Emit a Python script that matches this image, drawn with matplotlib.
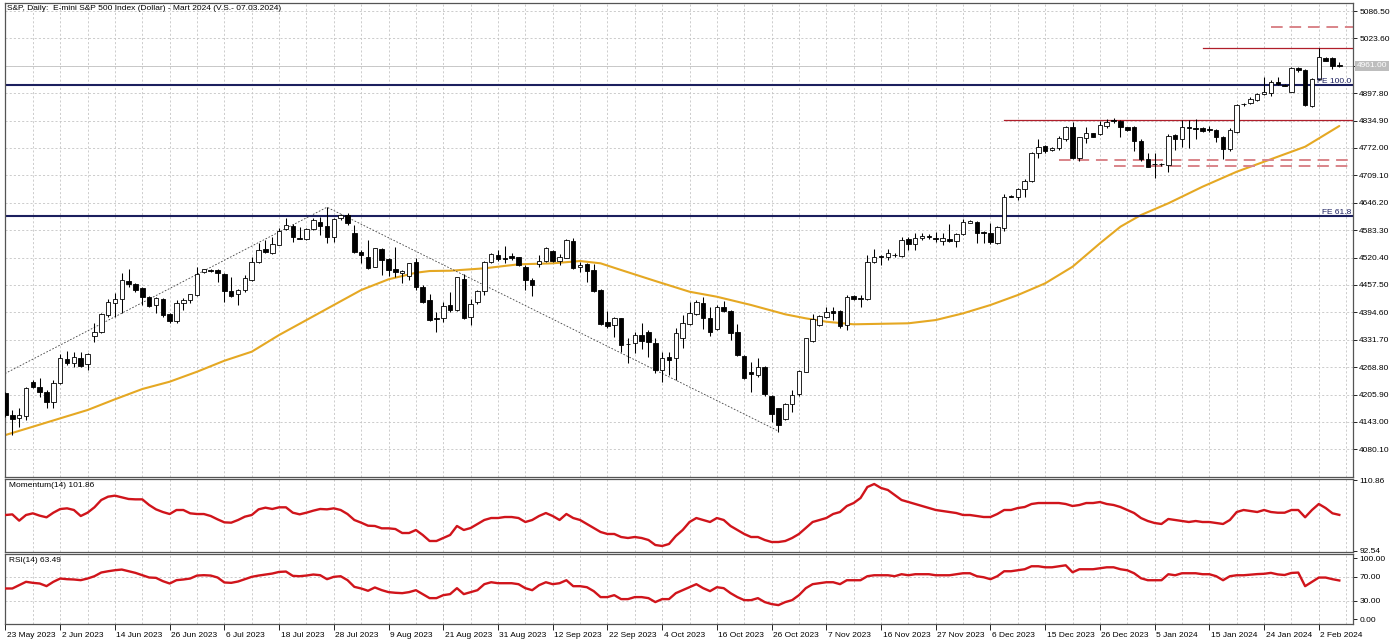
import matplotlib
matplotlib.use("Agg")
import matplotlib.pyplot as plt
from matplotlib.transforms import blended_transform_factory, ScaledTranslation

plt.rcParams['font.family'] = ['Liberation Sans', 'DejaVu Sans']
FS = 6.0

title = "S&P, Daily:  E-mini S&P 500 Index (Dollar) - Mart 2024 (V.S.- 07.03.2024)"

date_labels = ["23 May 2023", "2 Jun 2023", "14 Jun 2023", "26 Jun 2023", "6 Jul 2023",
               "18 Jul 2023", "28 Jul 2023", "9 Aug 2023", "21 Aug 2023", "31 Aug 2023",
               "12 Sep 2023", "22 Sep 2023", "4 Oct 2023", "16 Oct 2023", "26 Oct 2023",
               "7 Nov 2023", "16 Nov 2023", "27 Nov 2023", "6 Dec 2023", "15 Dec 2023",
               "26 Dec 2023", "5 Jan 2024", "15 Jan 2024", "24 Jan 2024", "2 Feb 2024"]
label_step = 8

# OHLC per daily bar
ohlc = [
 (4208.7,4212.6,4155.2,4159.0),(4159.0,4170.5,4113.1,4149.8),(4151.3,4174.3,4132.2,4159.0),(4156.7,4224.0,4147.5,4220.2),
 (4235.5,4239.3,4220.2,4224.0),(4224.0,4243.2,4201.1,4212.6),(4212.6,4216.4,4174.3,4188.1),(4188.1,4239.3,4174.3,4231.7),
 (4231.7,4299.0,4230.2,4289.1),(4288.3,4306.7,4273.8,4279.1),(4279.1,4304.4,4270.0,4292.9),(4290.6,4304.4,4270.0,4271.5),
 (4275.3,4302.1,4262.3,4299.0),(4340.4,4369.4,4327.3,4348.8),(4348.8,4392.4,4348.0,4390.9),(4388.6,4424.5,4384.7,4419.2),
 (4416.9,4438.3,4383.2,4424.5),(4424.5,4484.2,4392.4,4468.9),(4467.4,4493.4,4453.6,4459.7),(4459.7,4461.3,4442.1,4446.0),
 (4449.8,4452.1,4411.5,4430.7),(4429.1,4432.2,4406.2,4409.2),(4411.5,4430.7,4393.9,4426.8),(4425.3,4426.8,4383.2,4388.6),
 (4390.1,4392.4,4369.4,4375.6),(4375.6,4423.0,4371.0,4416.9),(4415.4,4426.8,4400.1,4423.0),(4423.0,4436.8,4415.4,4436.0),
 (4434.5,4499.5,4432.2,4482.7),(4487.3,4494.2,4485.8,4493.4),(4491.0,4493.4,4488.1,4490.0),(4491.9,4493.4,4465.1,4484.2),
 (4482.7,4484.2,4419.2,4444.4),(4444.4,4476.6,4429.1,4433.0),(4436.8,4447.5,4411.5,4446.0),(4446.0,4480.4,4442.1,4474.3),
 (4468.9,4522.5,4467.4,4511.0),(4511.0,4553.1,4507.2,4537.8),(4539.3,4560.8,4531.7,4534.0),(4531.7,4568.4,4528.6,4551.6),
 (4549.3,4587.6,4548.5,4582.2),(4585.3,4610.5,4583.7,4595.2),(4593.7,4597.5,4557.0,4566.9),(4565.0,4589.9,4562.3,4564.0),
 (4562.3,4587.6,4560.8,4585.3),(4585.3,4610.5,4583.7,4606.7),(4602.8,4614.3,4572.2,4592.9),(4592.9,4637.3,4553.1,4566.9),
 (4566.9,4610.5,4557.0,4608.2),(4610.5,4620.5,4606.7,4618.2),(4618.2,4622.0,4595.2,4600.6),(4577.6,4595.2,4530.2,4534.0),
 (4534.0,4537.8,4507.2,4526.3),(4522.5,4560.8,4493.4,4495.7),(4499.5,4543.2,4498.0,4541.6),(4540.1,4541.6,4480.4,4514.9),
 (4516.4,4518.7,4478.1,4491.9),(4493.4,4545.5,4476.6,4488.1),(4484.2,4491.9,4461.3,4489.6),(4478.1,4508.7,4468.9,4507.2),
 (4511.0,4518.7,4446.0,4453.6),(4453.6,4457.4,4416.9,4419.2),(4423.0,4436.0,4374.8,4377.1),(4380.9,4394.7,4348.8,4378.6),
 (4382.4,4419.2,4373.3,4410.0),(4411.5,4442.1,4396.2,4400.1),(4400.1,4476.6,4397.8,4475.1),(4471.2,4481.9,4378.6,4382.4),
 (4384.7,4425.3,4365.6,4413.1),(4417.7,4446.0,4413.1,4443.7),(4443.7,4512.5,4434.5,4509.5),(4509.5,4530.2,4507.2,4527.9),
 (4526.3,4537.8,4512.5,4516.4),(4519.4,4547.8,4507.2,4517.9),(4524.0,4530.2,4514.8,4518.7),(4521.0,4522.5,4501.8,4503.4),
 (4499.5,4503.4,4446.0,4468.9),(4468.9,4472.8,4432.9,4457.4),(4506.4,4526.3,4499.5,4512.5),(4512.5,4545.5,4511.0,4541.6),
 (4536.3,4537.8,4511.0,4513.3),(4513.3,4527.9,4503.4,4522.5),(4520.2,4563.1,4518.7,4560.8),(4558.5,4566.1,4494.2,4495.7),
 (4499.5,4511.0,4488.1,4503.4),(4504.9,4507.2,4465.1,4490.4),(4491.9,4504.9,4442.1,4443.7),(4446.0,4447.5,4365.6,4367.1),
 (4371.7,4397.8,4358.0,4364.1),(4365.6,4384.7,4338.8,4382.4),(4380.9,4382.4,4304.4,4319.7),(4322.0,4335.0,4277.6,4321.2),
 (4323.5,4350.3,4300.6,4342.6),(4342.6,4369.4,4310.5,4329.6),(4350.3,4354.1,4292.9,4325.8),(4323.5,4335.0,4254.6,4262.3),
 (4262.3,4304.4,4235.5,4290.6),(4291.4,4302.9,4250.8,4285.3),(4289.1,4358.0,4239.3,4346.5),(4335.0,4388.6,4313.6,4369.4),
 (4367.9,4419.2,4365.6,4392.4),(4390.1,4423.0,4388.6,4417.7),(4416.9,4430.7,4356.4,4380.9),(4380.9,4407.7,4340.4,4350.3),
 (4356.4,4411.5,4354.1,4407.7),(4407.7,4420.7,4394.7,4397.8),(4397.8,4400.1,4331.2,4346.5),(4348.8,4367.1,4295.2,4296.7),
 (4295.2,4296.7,4241.6,4244.7),(4256.9,4281.4,4212.6,4252.3),(4250.8,4290.6,4247.0,4270.0),(4270.0,4271.5,4203.4,4206.4),
 (4202.6,4204.9,4143.7,4160.5),(4174.3,4175.8,4120.7,4136.0),(4149.0,4185.8,4147.5,4183.5),(4183.5,4216.4,4166.6,4204.9),
 (4206.4,4262.3,4203.4,4260.0),(4258.5,4336.5,4256.9,4335.0),(4328.9,4390.1,4327.3,4379.4),(4365.6,4388.5,4363.3,4386.2),
 (4383.2,4407.7,4380.9,4396.2),(4398.5,4407.7,4377.1,4393.9),(4398.5,4400.0,4357.9,4363.3),(4365.6,4434.4,4354.1,4430.6),
 (4432.1,4434.4,4423.0,4424.5),(4427.6,4434.4,4407.7,4426.0),(4424.5,4526.3,4423.0,4510.0),(4510.0,4539.3,4508.7,4520.9),
 (4523.2,4526.3,4503.3,4521.7),(4520.9,4539.3,4514.8,4530.1),(4527.0,4530.1,4522.5,4525.5),(4524.0,4568.4,4522.5,4560.7),
 (4562.3,4566.8,4537.8,4551.5),(4551.5,4577.6,4537.8,4566.1),(4564.6,4576.0,4560.7,4569.9),(4569.2,4573.7,4562.3,4567.6),
 (4565.3,4579.9,4556.9,4563.8),(4559.2,4576.0,4549.2,4564.6),(4563.0,4597.5,4556.9,4559.2),(4559.2,4577.6,4545.4,4574.5),
 (4574.5,4608.2,4572.2,4602.8),(4600.5,4606.6,4599.0,4605.1),(4602.8,4605.1,4554.6,4577.6),(4578.3,4582.2,4554.6,4576.8),
 (4577.6,4599.0,4551.5,4555.4),(4553.1,4592.9,4551.5,4589.8),(4587.5,4666.3,4582.2,4660.2),(4661.0,4664.0,4658.7,4659.4),
 (4660.2,4679.3,4652.6,4677.0),(4677.0,4700.0,4660.2,4696.9),(4696.9,4763.5,4694.6,4761.2),(4761.2,4791.8,4748.2,4775.0),
 (4776.5,4778.8,4761.2,4765.8),(4767.4,4773.5,4765.8,4771.9),(4771.2,4799.5,4767.4,4794.1),(4791.8,4822.5,4788.8,4819.4),
 (4821.0,4832.4,4745.9,4748.2),(4748.2,4797.9,4742.9,4796.4),(4794.1,4821.0,4784.2,4805.6),(4805.6,4807.1,4796.4,4798.0),
 (4804.1,4834.7,4801.8,4824.8),(4822.5,4837.8,4817.1,4832.4),(4835.5,4840.1,4830.1,4833.9),(4834.7,4836.2,4798.0,4819.4),
 (4819.4,4821.0,4811.7,4813.3),(4819.4,4822.5,4765.8,4788.8),(4788.8,4791.8,4742.9,4745.9),(4745.9,4759.7,4727.6,4729.1),
 (4736.0,4759.7,4702.3,4734.4),(4734.4,4738.3,4730.6,4736.0),(4732.9,4803.3,4716.1,4799.5),(4801.8,4803.3,4767.4,4791.8),
 (4791.8,4836.2,4773.5,4819.4),(4819.4,4836.2,4771.2,4817.1),(4817.9,4837.8,4791.8,4816.3),(4817.1,4819.4,4809.4,4811.7),
 (4815.6,4822.5,4809.4,4814.0),(4813.3,4814.8,4786.5,4798.0),(4798.0,4799.5,4745.9,4768.9),(4768.9,4817.1,4765.8,4813.3),
 (4809.4,4873.0,4807.1,4870.7),(4873.7,4876.0,4868.4,4872.2),(4874.5,4888.3,4873.0,4883.7),(4882.2,4899.0,4880.6,4895.9),
 (4895.9,4934.2,4893.6,4901.3),(4899.0,4928.1,4891.3,4924.2),(4924.2,4934.2,4916.6,4918.9),(4916.6,4918.1,4914.3,4915.1),
 (4901.3,4957.1,4899.7,4954.9),(4954.9,4957.1,4947.2,4951.0),(4951.0,4952.6,4869.1,4870.7),(4868.4,4931.9,4866.8,4929.6),
 (4929.6,5000.8,4928.1,4981.6),(4977.8,4980.1,4972.5,4972.5),(4977.8,4980.1,4952.6,4960.2),(4962.0,4970.2,4957.1,4961.0),
]
opens = [r[0] for r in ohlc]
highs = [r[1] for r in ohlc]
lows = [r[2] for r in ohlc]
closes = [r[3] for r in ohlc]
bars = list(range(len(ohlc)))

# moving average (read at points)
ma_bar = [0, 4, 8, 12, 16, 20, 24, 28, 32, 36, 40, 44, 48, 52, 56, 60, 62, 65, 70, 75, 80, 84, 87, 90,
          95, 100, 104, 109, 114, 117, 120, 124, 132, 136, 140, 144, 148, 152, 156, 160, 163, 166, 170,
          175, 180, 184, 190, 195]
ma_val = [4113.0, 4132.1, 4151.3, 4170.4, 4195.0, 4218.6, 4235.4, 4258.3, 4283.6, 4304.3, 4342.6, 4377.0,
          4411.5, 4445.9, 4470.5, 4485.6, 4489.5, 4490.2, 4495.7, 4504.9, 4507.2, 4512.5, 4507.2, 4491.8,
          4466.6, 4442.0, 4430.5, 4411.5, 4390.1, 4380.9, 4373.1, 4367.2, 4369.5, 4377.0, 4392.4, 4411.5,
          4434.4, 4461.3, 4499.4, 4553.1, 4591.3, 4618.1, 4645.0, 4683.1, 4717.5, 4740.5, 4774.9, 4822.5]

momentum = [101.83, 101.99, 100.37, 101.83, 102.26, 101.66, 101.23, 102.43, 103.37, 103.55, 103.12, 101.57,
            102.43, 103.81, 105.70, 106.56, 106.82, 106.39, 105.96, 105.87, 105.87, 104.41, 103.29, 102.60,
            102.08, 103.12, 103.12, 102.26, 102.08, 102.08, 101.57, 100.71, 99.93, 99.85, 100.54, 101.40,
            101.83, 103.29, 103.72, 103.38, 103.81, 103.81, 102.43, 102.00, 102.43, 102.95, 103.38, 103.29,
            103.55, 103.12, 102.08, 100.54, 99.85, 99.07, 98.99, 98.39, 98.39, 98.21,
            97.18, 97.18, 97.96, 96.67, 95.12, 95.12, 95.89, 96.67, 98.99, 97.96, 98.47, 99.51, 100.54, 101.05,
            101.05, 101.31, 101.31, 101.05, 100.02, 100.54, 101.57, 102.34, 101.57, 100.54, 102.09, 101.05,
            100.54, 99.51, 98.47, 97.44, 96.93, 96.93, 96.15, 95.89, 96.15, 95.89, 95.38, 94.09, 93.83, 94.35,
            96.41, 97.96, 100.02, 101.05, 100.54, 100.02, 101.05, 100.54, 98.99, 97.96, 96.93, 96.15, 96.15,
            95.38, 94.86, 94.86, 95.12, 95.89, 96.93, 98.47, 100.02, 100.54, 101.05, 102.09, 102.60, 104.15,
            104.92, 106.21, 109.05, 109.83, 108.80, 108.28, 106.99, 105.70, 105.18, 104.67, 104.15, 103.63,
            103.12, 102.86, 102.60, 102.34, 101.83, 101.83, 101.57, 101.31, 101.31, 102.09, 103.12, 103.12,
            103.63, 103.89, 104.67, 104.92, 104.92, 104.92, 104.92, 104.67, 104.15, 104.41, 104.92, 104.92,
            105.18, 104.67, 104.41, 103.89, 103.12, 102.34, 101.05, 100.28, 99.76, 99.51, 100.80, 100.54,
            100.28, 100.02, 100.28, 100.02, 100.02, 99.76, 99.51, 100.54, 102.60, 103.12, 102.86, 102.60,
            103.12, 102.60, 102.42, 102.42, 103.12, 103.12, 101.24, 103.12, 104.67, 103.63, 102.27, 101.86]

rsi = [50.3, 50.3, 55.8, 61.3, 59.6, 58.5, 54.2, 61.3, 66.7, 65.6, 65.1, 64.0, 66.7, 70.5, 76.6, 78.7,
       80.4, 81.5, 78.7, 76.0, 72.2, 68.4, 67.8, 62.4, 58.5, 64.0, 65.1, 66.7, 71.6, 72.2, 71.6, 68.4,
       60.2, 59.6, 61.8, 65.6, 69.5, 71.6, 73.3, 74.9, 77.6, 78.2, 71.1, 70.5, 71.6, 73.3, 72.2, 65.6,
       69.5, 70.5, 64.0, 53.0, 50.3, 46.5, 52.0, 47.6, 44.3, 43.2,
       42.6, 44.3, 47.5, 41.0, 34.4, 34.4, 39.3, 41.0, 50.8, 41.0, 44.3, 47.5, 57.4, 60.6, 59.0, 59.0,
       59.0, 57.4, 50.8, 47.5, 55.7, 60.6, 57.4, 59.0, 63.9, 54.1, 54.1, 52.4, 45.9, 36.1, 36.1, 39.3,
       32.8, 32.8, 36.1, 36.1, 34.4, 27.9, 32.8, 32.8, 42.6, 47.5, 52.4, 57.4, 50.8, 45.9, 52.4, 50.8,
       42.6, 36.1, 31.1, 31.1, 34.4, 27.9, 24.6, 22.9, 27.9, 31.1, 39.3, 50.8, 57.4, 59.0, 60.6, 60.6,
       57.4, 63.9, 63.9, 63.9, 70.5, 72.1, 72.1, 72.1, 70.5, 73.8, 72.1, 73.8, 73.8, 73.8, 72.1, 72.1,
       72.1, 73.8, 75.4, 75.4, 70.5, 68.8, 65.6, 70.5, 78.7, 78.7, 80.3, 82.0, 86.9, 86.9, 85.2, 85.2,
       86.9, 88.5, 77.0, 82.0, 82.0, 82.0, 83.6, 85.2, 85.2, 82.0, 80.3, 75.4, 67.2, 63.9, 63.9, 63.9,
       73.8, 72.1, 75.4, 75.4, 75.4, 73.8, 73.8, 70.5, 63.9, 70.5, 72.1, 72.1, 73.0, 74.0, 74.5, 76.0,
       73.5, 72.5, 75.9, 76.5, 54.1, 61.1, 68.3, 68.3, 65.6, 63.49]

price_ticks = [4080.10, 4143.00, 4205.90, 4268.80, 4331.70, 4394.60, 4457.50, 4520.40, 4583.30,
               4646.20, 4709.10, 4772.00, 4834.90, 4897.80, 4960.70, 5023.60, 5086.50]
last_price = 4961.00
mom_ticks = [92.54, 110.86]
rsi_ticks = [0.0, 30.0, 70.0, 100.0]
rsi_levels = [30.0, 70.0]

fe_levels = [4916.6, 4615.0]
fe_names = ["FE 100.0", "FE 61.8"]
fib_bar = [-51, 47, 113]
fib_price = [3841.0, 4636.0, 4122.0]
red_solid = [(175, 5001.0), (146, 4836.2)]
red_dashed = [(185, 5050.5), (154, 4744.4), (162, 4731.3)]

# ---------------------------------------------------------------- layout
W, H = 1398, 641
fig = plt.figure(figsize=(W / 100, H / 100), dpi=100)
fig.patch.set_facecolor('white')


def rect(top, bottom, left=5, right=1353):
    return [left / W, 1 - bottom / H, (right - left) / W, (bottom - top) / H]


ax = fig.add_axes(rect(3, 477))
axm = fig.add_axes(rect(478.5, 552))
axr = fig.add_axes(rect(554, 624))
XL = (-0.073, 197.0)

grid_kw = dict(color='#C4C4C4', lw=0.6, ls=(0, (2.5, 2.5)), zorder=0)
for a in (ax, axm, axr):
    a.set_xlim(*XL)
    for s in a.spines.values():
        s.set_color('#555555')
        s.set_linewidth(0.9)
    a.yaxis.tick_right()
    a.tick_params(axis='y', direction='out', length=3, width=0.6, pad=1.5,
                  labelsize=FS, colors='black')
    for g in range(0, 197, 4):
        a.axvline(g, **grid_kw)

# main panel
ax.set_ylim(4016.6, 5104.9)
ax.set_yticks(price_ticks)
ax.set_yticklabels(['' if abs(p - last_price) < 1 else f"{p:.2f}" for p in price_ticks])
for p in price_ticks:
    ax.axhline(p, **grid_kw)
ax.set_xticks([])
axm.set_xticks([])

ax.axhline(last_price, color='#C8C8C8', lw=0.7, zorder=1)

ax.plot(ma_bar, ma_val, color='#E5A823', lw=1.5, zorder=2, solid_capstyle='round',
        solid_joinstyle='round')
ax.plot(fib_bar, fib_price, color='#404040', lw=0.6, ls=(0, (2, 2)), zorder=2)

for lvl, nm in zip(fe_levels, fe_names):
    ax.axhline(lvl, color='#1B1F5E', lw=1.5, zorder=2)
    ax.text(0.9985, lvl, nm, transform=blended_transform_factory(ax.transAxes, ax.transData),
            ha='right', va='bottom', fontsize=FS, color='#1B1F5E', zorder=6)
for b, lvl in red_solid:
    ax.plot([b, XL[1]], [lvl, lvl], color='#B01E2A', lw=0.9, zorder=2)
for b, lvl in red_dashed:
    ax.plot([b, XL[1]], [lvl, lvl], color='#D98489', lw=1.4, ls=(0, (6, 3.5)), zorder=2)

# candles
ax.vlines(bars, lows, highs, color='black', lw=0.75, zorder=3)
bw = 0.66
for i, (o, h, l, c) in enumerate(ohlc):
    up = c >= o
    ax.bar(i, abs(c - o) if abs(c - o) > 0.5 else 0.0, bottom=min(o, c), width=bw,
           facecolor='white' if up else 'black', edgecolor='black', linewidth=0.6, zorder=4)

# last price box
ax.text(1.003, last_price, f"{last_price:.2f}",
        transform=blended_transform_factory(ax.transAxes, ax.transData),
        ha='left', va='center', fontsize=FS, color='white', zorder=7, clip_on=False,
        bbox=dict(facecolor='#BDBDBD', edgecolor='none', pad=1.2))

# momentum panel
axm.set_ylim(92.28, 111.25)
axm.set_yticks(mom_ticks)
axm.set_yticklabels([f"{v:.2f}" for v in mom_ticks])
axm.plot(bars, momentum, color='#D0141B', lw=1.7, zorder=3)
axm.text(0.003, 0.90, f"Momentum(14) {momentum[-1]:.2f}", transform=axm.transAxes,
         ha='left', va='center', fontsize=FS, color='black')

# RSI panel
axr.set_ylim(-8.2, 107.1)
axr.set_yticks(rsi_ticks)
axr.set_yticklabels([f"{v:.2f}" for v in rsi_ticks])
for lv in rsi_levels:
    axr.axhline(lv, **grid_kw)
axr.plot(bars, rsi, color='#D0141B', lw=1.7, zorder=3)
axr.text(0.003, 0.90, f"RSI(14) {rsi[-1]:.2f}", transform=axr.transAxes,
         ha='left', va='center', fontsize=FS, color='black')

tick_pos = [k * label_step for k in range(len(date_labels))]
axr.set_xticks(tick_pos)
axr.set_xticklabels(date_labels)
axr.tick_params(axis='x', direction='out', length=4, width=0.6, pad=1.5,
                labelsize=FS, colors='black')
off = ScaledTranslation(1.5 / 100, 0, fig.dpi_scale_trans)
for lab in axr.get_xticklabels():
    lab.set_horizontalalignment('left')
    lab.set_transform(lab.get_transform() + off)

fig.text(7 / W, 1 - 8 / H, title, ha='left', va='center', fontsize=FS, color='black')

fig.savefig('out.png', dpi=100, facecolor='white')
